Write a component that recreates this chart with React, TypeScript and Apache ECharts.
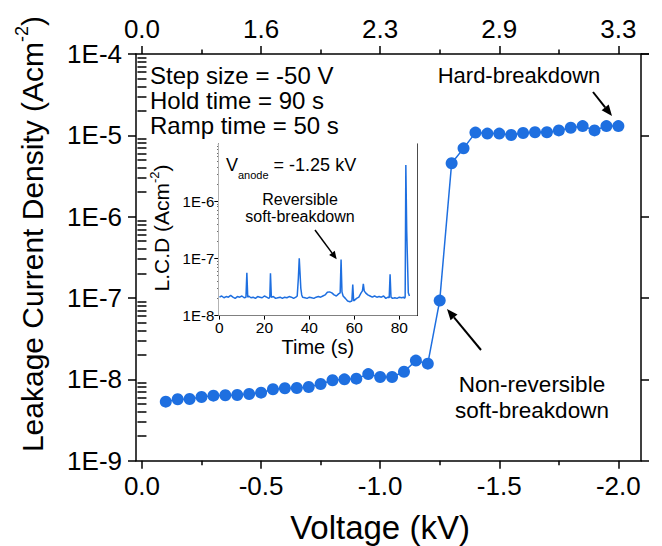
import React, { useEffect, useRef } from 'react';
import * as echarts from 'echarts';

const FONT = '"Liberation Sans", Arial, Helvetica, sans-serif';
const BLUE = '#1E6FE0';

// Ramp measurement: anode voltage (kV) and leakage current density (A/cm^2)
const voltage = [
  -0.1, -0.15, -0.2, -0.25, -0.3, -0.35, -0.4, -0.45, -0.5, -0.55,
  -0.6, -0.65, -0.7, -0.75, -0.8, -0.85, -0.9, -0.95, -1.0, -1.05,
  -1.1, -1.15, -1.2, -1.25, -1.3, -1.35, -1.4, -1.45, -1.5, -1.55,
  -1.6, -1.65, -1.7, -1.75, -1.8, -1.85, -1.9, -1.95, -2.0,
];
const currentDensity = [
  5.32e-9, 5.69e-9, 5.74e-9, 6.08e-9, 6.31e-9, 6.37e-9, 6.43e-9, 6.61e-9, 6.86e-9, 7.55e-9,
  7.78e-9, 7.84e-9, 8.07e-9, 8.78e-9, 9.75e-9, 1.0e-8, 1.02e-8, 1.16e-8, 1.07e-8, 1.07e-8,
  1.24e-8, 1.7e-8, 1.56e-8, 9.3e-8, 4.53e-6, 6.92e-6, 1.08e-5, 1.05e-5, 1.05e-5, 1.01e-5,
  1.07e-5, 1.09e-5, 1.09e-5, 1.15e-5, 1.24e-5, 1.3e-5, 1.15e-5, 1.3e-5, 1.3e-5,
];

// Axis ticks (voltage) and the matching field values on the top axis
const voltageTicks = [0, -0.5, -1.0, -1.5, -2.0];
const voltageMinorTicks = [-0.25, -0.75, -1.25, -1.75];
const fieldTicks = [0, -0.5, -1.0, -1.5, -2.0];
const fieldLabels = ['0.0', '1.6', '2.3', '2.9', '3.3'];

// Hold at -1.25 kV: time (s) and leakage current density (A/cm^2)
const holdTime = [
  0, 1, 2, 3, 4, 5, 6, 7, 8, 9, 10, 11, 11.8, 12.2, 12.6, 13, 14, 15, 16, 17,
  18, 19, 20, 21, 22, 22.4, 22.7, 23.1, 24, 25, 26, 27, 28, 29, 30, 31, 32, 33,
  34, 34.6, 35.1, 35.5, 35.8, 36.2, 36.6, 37, 38, 39, 40, 41, 42, 43, 44, 45,
  46, 47, 48, 49, 50, 51, 52, 53, 53.7, 54.1, 54.5, 55, 56, 57, 58, 58.9, 59.3,
  59.7, 60, 61, 62, 63, 63.6, 64, 64.4, 65, 66, 67, 68, 69, 70, 71, 72, 73, 74,
  75, 75.5, 75.9, 76.3, 77, 78, 79, 80, 81, 82, 82.3, 82.6, 82.9, 83.3, 84, 84.5,
];
const holdCurrent = [
  2.1e-8, 2.2e-8, 2.05e-8, 2.15e-8, 2.1e-8, 2.25e-8, 2.1e-8, 2.0e-8, 2.15e-8, 2.1e-8,
  2.2e-8, 2.05e-8, 2.1e-8, 5.6e-8, 2.1e-8, 2.2e-8, 2.05e-8, 2.1e-8, 2.0e-8, 2.15e-8,
  2.1e-8, 2.05e-8, 2.2e-8, 2.1e-8, 2.0e-8, 2.1e-8, 5.5e-8, 2.1e-8, 2.15e-8, 2.0e-8,
  2.05e-8, 2.1e-8, 2.0e-8, 2.1e-8, 2.05e-8, 2.15e-8, 2.1e-8, 2.0e-8, 2.1e-8, 2.2e-8,
  4.5e-8, 1.0e-7, 6.0e-8, 3.0e-8, 2.3e-8, 2.1e-8, 2.05e-8, 2.0e-8, 2.1e-8, 2.05e-8,
  2.0e-8, 2.1e-8, 2.15e-8, 2.1e-8, 2.2e-8, 2.3e-8, 2.55e-8, 2.6e-8, 2.5e-8, 2.3e-8,
  2.2e-8, 2.4e-8, 2.5e-8, 9.6e-8, 2.6e-8, 2.2e-8, 2.0e-8, 1.8e-8, 1.75e-8, 1.8e-8,
  3.5e-8, 1.8e-8, 1.85e-8, 2.0e-8, 2.1e-8, 2.5e-8, 2.7e-8, 3.6e-8, 2.7e-8, 2.5e-8,
  2.3e-8, 2.2e-8, 2.1e-8, 2.2e-8, 2.1e-8, 2.15e-8, 2.1e-8, 2.2e-8, 2.0e-8, 2.1e-8,
  2.05e-8, 5.3e-8, 2.1e-8, 2.0e-8, 2.05e-8, 2.0e-8, 2.1e-8, 2.05e-8, 2.1e-8, 2.0e-8,
  2.1e-8, 4.3e-6, 3.0e-7, 2.5e-8, 2.2e-8, 2.1e-8,
];
const holdTimeTicks = [0, 20, 40, 60, 80];

// Minor ticks of a log axis, expressed as log10 positions
function logMinorTicks(fromExp: number, toExp: number): number[] {
  const out: number[] = [];
  for (let e = fromExp; e < toExp; e++) {
    for (let k = 2; k <= 9; k++) out.push(e + Math.log10(k));
  }
  return out;
}

const sciLabel = (v: number) => '1E' + Math.round(Math.log10(v));

function arrow(x1: number, y1: number, x2: number, y2: number, head = 11, half = 4.5, width = 2) {
  const a = Math.atan2(y2 - y1, x2 - x1);
  const bx = x2 - head * Math.cos(a);
  const by = y2 - head * Math.sin(a);
  const px = -Math.sin(a) * half;
  const py = Math.cos(a) * half;
  return [
    { type: 'line', shape: { x1, y1, x2: bx, y2: by }, style: { stroke: '#000', lineWidth: width } },
    {
      type: 'polygon',
      shape: { points: [[x2, y2], [bx + px, by + py], [bx - px, by - py]] },
      style: { fill: '#000' },
    },
  ];
}

const blackLine = { color: '#000', width: 1.5 };

function buildOption() {
  const mainGrid = { left: 136, top: 54, width: 505, height: 406.7 };
  const insetGrid = {
    left: 218.3, top: 144, width: 199, height: 171.6,
    show: true, backgroundColor: '#fff', borderWidth: 0, z: 5,
  };
  const vMin = -2.095;
  const vMax = 0.025;

  const xAxis: any[] = [
    {
      gridIndex: 0, type: 'value', position: 'bottom', min: vMin, max: vMax, inverse: true,
      axisLine: { show: true, onZero: false, lineStyle: blackLine },
      axisTick: { show: true, customValues: voltageTicks, length: 8, lineStyle: blackLine },
      axisLabel: {
        customValues: voltageTicks, formatter: (v: number) => v.toFixed(1),
        fontSize: 26, fontFamily: FONT, color: '#000', margin: 12,
      },
      splitLine: { show: false },
    },
    {
      gridIndex: 0, type: 'value', position: 'bottom', min: vMin, max: vMax, inverse: true,
      axisLine: { show: false },
      axisTick: { show: true, customValues: voltageMinorTicks, length: 4.5, lineStyle: blackLine },
      axisLabel: { show: false }, splitLine: { show: false },
    },
    {
      gridIndex: 0, type: 'value', position: 'top', min: vMin, max: vMax, inverse: true,
      axisLine: { show: true, onZero: false, lineStyle: blackLine },
      axisTick: { show: true, customValues: fieldTicks, length: 8, lineStyle: blackLine },
      axisLabel: {
        customValues: fieldTicks,
        formatter: (v: number) => {
          const i = fieldTicks.findIndex((t) => Math.abs(t - v) < 1e-6);
          return i >= 0 ? fieldLabels[i] : '';
        },
        fontSize: 26, fontFamily: FONT, color: '#000', margin: 12,
      },
      splitLine: { show: false },
    },
    {
      gridIndex: 0, type: 'value', position: 'top', min: vMin, max: vMax, inverse: true,
      axisLine: { show: false },
      axisTick: { show: true, customValues: voltageMinorTicks, length: 4.5, lineStyle: blackLine },
      axisLabel: { show: false }, splitLine: { show: false },
    },
    {
      gridIndex: 1, type: 'value', position: 'bottom', min: -0.5, max: 88,
      axisLine: { show: true, onZero: false, lineStyle: { color: '#000', width: 1 } },
      axisTick: { show: true, customValues: holdTimeTicks, length: 4, lineStyle: { color: '#000', width: 1 } },
      axisLabel: {
        customValues: holdTimeTicks, fontSize: 15.5, fontFamily: FONT, color: '#000', margin: 4,
      },
      splitLine: { show: false },
      name: 'Time (s)', nameLocation: 'middle', nameGap: 21,
      nameTextStyle: { fontSize: 20, fontFamily: FONT, color: '#000' },
    },
    {
      gridIndex: 1, type: 'value', position: 'top', min: -0.5, max: 88,
      axisLine: { show: true, onZero: false, lineStyle: { color: '#000', width: 1 } },
      axisTick: { show: true, inside: true, customValues: holdTimeTicks, length: 3, lineStyle: { color: '#000', width: 1 } },
      axisLabel: { show: false }, splitLine: { show: false },
    },
  ];

  const yAxis: any[] = [
    {
      gridIndex: 0, type: 'log', logBase: 10, min: 1e-9, max: 1e-4, position: 'left',
      axisLine: { show: true, onZero: false, lineStyle: blackLine },
      axisTick: { show: true, length: 8, lineStyle: blackLine },
      axisLabel: { formatter: sciLabel, fontSize: 26, fontFamily: FONT, color: '#000', margin: 14 },
      splitLine: { show: false },
    },
    {
      gridIndex: 0, type: 'value', min: -9, max: -4, position: 'left',
      axisLine: { show: false },
      axisTick: { show: true, customValues: logMinorTicks(-9, -4), length: 4.5, lineStyle: blackLine },
      axisLabel: { show: false }, splitLine: { show: false },
    },
    {
      gridIndex: 0, type: 'log', logBase: 10, min: 1e-9, max: 1e-4, position: 'right',
      axisLine: { show: true, onZero: false, lineStyle: blackLine },
      axisTick: { show: true, length: 8, lineStyle: blackLine },
      axisLabel: { show: false }, splitLine: { show: false },
    },
    {
      gridIndex: 0, type: 'value', min: -9, max: -4, position: 'right',
      axisLine: { show: false },
      axisTick: { show: true, customValues: logMinorTicks(-9, -4), length: 4.5, lineStyle: blackLine },
      axisLabel: { show: false }, splitLine: { show: false },
    },
    {
      gridIndex: 1, type: 'log', logBase: 10, min: 1e-8, max: 1e-5, position: 'left',
      axisLine: { show: true, onZero: false, lineStyle: { color: '#000', width: 1 } },
      axisTick: { show: true, length: 4, lineStyle: { color: '#000', width: 1 } },
      axisLabel: {
        formatter: sciLabel, showMaxLabel: false, fontSize: 15, fontFamily: FONT, color: '#000', margin: 4,
      },
      splitLine: { show: false },
    },
    {
      gridIndex: 1, type: 'value', min: -8, max: -5, position: 'left',
      axisLine: { show: false },
      axisTick: { show: true, customValues: logMinorTicks(-8, -5), length: 2, lineStyle: { color: '#000', width: 1 } },
      axisLabel: { show: false }, splitLine: { show: false },
    },
    {
      gridIndex: 1, type: 'log', logBase: 10, min: 1e-8, max: 1e-5, position: 'right',
      axisLine: { show: true, onZero: false, lineStyle: { color: '#000', width: 1 } },
      axisTick: { show: true, inside: true, length: 3, lineStyle: { color: '#000', width: 1 } },
      axisLabel: { show: false }, splitLine: { show: false },
    },
  ];

  const textStyle = (size: number) => ({ fontSize: size, fontFamily: FONT, fill: '#000' });

  const graphic: any[] = [
    // axis titles
    {
      type: 'text', x: 30, y: 234, rotation: Math.PI / 2,
      style: {
        text: '{a|Leakage Current Density (Acm}{s|-2}{a|)}',
        align: 'center', verticalAlign: 'middle',
        rich: {
          a: { fontSize: 30, fontFamily: FONT, fill: '#000', lineHeight: 34, verticalAlign: 'bottom' },
          s: { fontSize: 18, fontFamily: FONT, fill: '#000', lineHeight: 34, verticalAlign: 'top' },
        },
      },
    },
    {
      type: 'text', x: 380, y: 527,
      style: { text: 'Voltage (kV)', align: 'center', verticalAlign: 'middle', ...textStyle(33) },
    },
    // test conditions
    {
      type: 'text', x: 150, y: 75,
      style: { text: 'Step size = -50 V', verticalAlign: 'middle', ...textStyle(24) },
    },
    {
      type: 'text', x: 150, y: 100,
      style: { text: 'Hold time = 90 s', verticalAlign: 'middle', ...textStyle(24) },
    },
    {
      type: 'text', x: 150, y: 125,
      style: { text: 'Ramp time = 50 s', verticalAlign: 'middle', ...textStyle(24) },
    },
    // annotations
    {
      type: 'text', x: 519, y: 75,
      style: { text: 'Hard-breakdown', align: 'center', verticalAlign: 'middle', ...textStyle(22) },
    },
    ...arrow(593, 92, 612, 116),
    {
      type: 'text', x: 532, y: 397,
      style: {
        text: 'Non-reversible\nsoft-breakdown', align: 'center', verticalAlign: 'middle',
        lineHeight: 26, ...textStyle(22.5),
      },
    },
    ...arrow(481, 350, 447, 309),
    // inset annotations
    {
      type: 'text', x: 160, y: 228, rotation: Math.PI / 2, z: 10,
      style: {
        text: '{a|L.C.D (Acm}{s|-2}{a|)}',
        align: 'center', verticalAlign: 'middle',
        rich: {
          a: { fontSize: 21, fontFamily: FONT, fill: '#000', lineHeight: 24, verticalAlign: 'bottom' },
          s: { fontSize: 13, fontFamily: FONT, fill: '#000', lineHeight: 24, verticalAlign: 'top' },
        },
      },
    },
    {
      type: 'text', x: 226, y: 168, z: 10,
      style: {
        text: '{a|V}{b|anode}{a| = -1.25 kV}',
        verticalAlign: 'middle',
        rich: {
          a: { fontSize: 18, fontFamily: FONT, fill: '#000', lineHeight: 24, verticalAlign: 'top' },
          b: { fontSize: 11, fontFamily: FONT, fill: '#000', lineHeight: 24, verticalAlign: 'bottom' },
        },
      },
    },
    {
      type: 'text', x: 300, y: 208, z: 10,
      style: {
        text: 'Reversible\nsoft-breakdown', align: 'center', verticalAlign: 'middle',
        lineHeight: 17, ...textStyle(16),
      },
    },
    ...arrow(315, 230, 336.7, 259.3, 8, 3.5, 1.5).map((g) => ({ ...g, z: 10 })),
  ];

  return {
    animation: false,
    backgroundColor: '#fff',
    grid: [mainGrid, insetGrid],
    xAxis,
    yAxis,
    graphic,
    series: [
      {
        type: 'line', xAxisIndex: 0, yAxisIndex: 0,
        data: voltage.map((v, i) => [v, currentDensity[i]]),
        symbol: 'circle', symbolSize: 12, showSymbol: true,
        lineStyle: { color: BLUE, width: 1.5 },
        itemStyle: { color: BLUE },
        z: 3,
      },
      {
        type: 'line', xAxisIndex: 4, yAxisIndex: 4,
        data: holdTime.map((t, i) => [t, holdCurrent[i]]),
        showSymbol: false, symbol: 'none',
        lineStyle: { color: BLUE, width: 1.5 },
        z: 6,
      },
    ],
  };
}

export default function App() {
  const ref = useRef<HTMLDivElement>(null);
  useEffect(() => {
    if (!ref.current) return;
    const chart = echarts.init(ref.current, undefined, { renderer: 'svg' });
    chart.setOption(buildOption() as any);
    return () => chart.dispose();
  }, []);
  return (
    <div
      ref={ref}
      style={{ position: 'fixed', left: 0, top: 0, width: 662, height: 546, background: '#fff' }}
    />
  );
}
